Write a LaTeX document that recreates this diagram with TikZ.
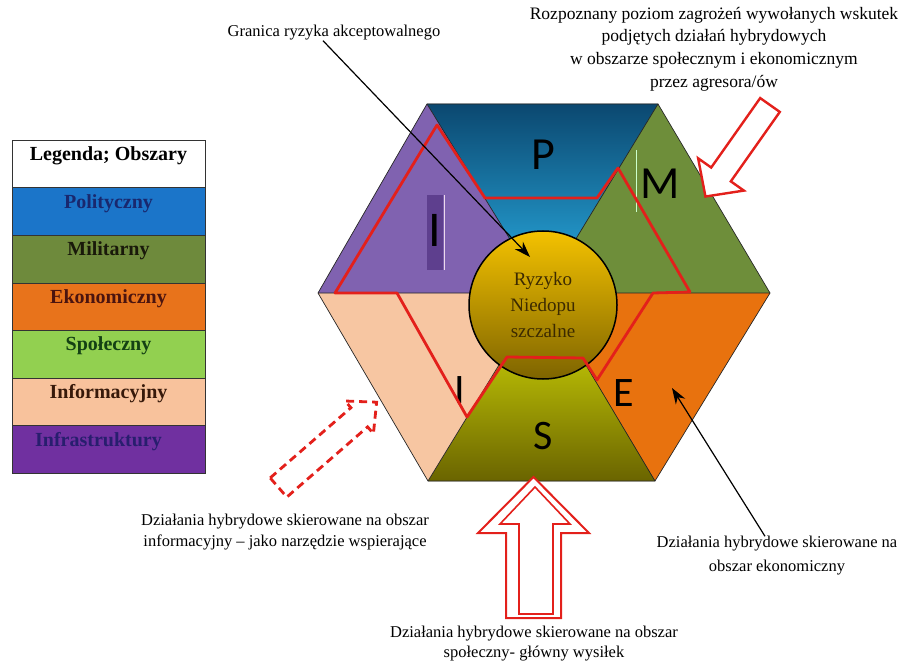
\documentclass[tikz,border=0pt]{standalone}
\usepackage{fontspec}
\setmainfont{Liberation Serif}
\newfontfamily\letterfont{Carlito}
\usetikzlibrary{arrows.meta}

\definecolor{riskred}{HTML}{E3201B}
\definecolor{pdark}{HTML}{0B4870}
\definecolor{plight}{HTML}{2AB0E6}
\definecolor{militar}{HTML}{6E8E3A}
\definecolor{ekon}{HTML}{E8720E}
\definecolor{infoseg}{HTML}{F7C6A2}
\definecolor{infraseg}{HTML}{8062B0}
\definecolor{infradark}{HTML}{5E3F8E}
\definecolor{spoltop}{HTML}{E2EA08}
\definecolor{spolmid}{HTML}{BFC400}
\definecolor{spolbot}{HTML}{6A6400}
\definecolor{circtop}{HTML}{F4C200}
\definecolor{circbot}{HTML}{7E6400}
\definecolor{legpol}{HTML}{1B75C9}
\definecolor{legmil}{HTML}{6E8A3C}
\definecolor{legeko}{HTML}{E8731B}
\definecolor{legspo}{HTML}{92D050}
\definecolor{leginf}{HTML}{F8C29C}
\definecolor{legifr}{HTML}{7030A0}

\begin{document}
\begin{tikzpicture}[x=1pt,y=-1pt,
	legendrow/.style={draw=black!80, line width=0.8pt, minimum width=193pt, minimum height=47.6pt, inner sep=0pt, text height=14pt, text depth=21pt, font=\fontsize{20}{22}\selectfont\bfseries},
	segment/.style={draw=black!85, line width=0.7pt},
	bigletter/.style={inner sep=0pt, font=\letterfont\fontsize{46}{46}\selectfont},
	smallletter/.style={inner sep=0pt, font=\letterfont\fontsize{42}{42}\selectfont},
	note/.style={align=center, inner sep=0pt, font=\fontsize{16.5}{21}\selectfont},
	pointer/.style={draw=black, line width=1.2pt, -{Stealth[length=16pt,width=11pt]}},
	limitline/.style={draw=riskred, line width=2.8pt, line join=round},
	blockarrow/.style={draw=riskred, fill=white, line width=2.4pt, line join=miter}]
	\useasboundingbox (0,0) rectangle (905,663);

	% legend
	\node[legendrow, fill=white, text=black] (leg0) at (108.5,164) {Legenda; Obszary};
	\node[legendrow, fill=legpol, text={rgb,255:red,25;green,40;blue,110}] (leg1) at (108.5,211.6) {Polityczny};
	\node[legendrow, fill=legmil, text={rgb,255:red,25;green,25;blue,10}] (leg2) at (108.5,259.2) {Militarny};
	\node[legendrow, fill=legeko, text={rgb,255:red,75;green,20;blue,15}] (leg3) at (108.5,306.8) {Ekonomiczny};
	\node[legendrow, fill=legspo, text={rgb,255:red,20;green,65;blue,20}] (leg4) at (108.5,354.4) {Społeczny};
	\node[legendrow, fill=leginf, text={rgb,255:red,55;green,25;blue,10}] (leg5) at (108.5,402) {Informacyjny};
	\node[legendrow, fill=legifr, text={rgb,255:red,40;green,30;blue,110}] (leg6) at (108.5,449.6) {Infrastruktury\hspace*{20pt}};

	% hexagon corners
	\coordinate (tl) at (427,104);
	\coordinate (tr) at (658,104);
	\coordinate (rr) at (770,293);
	\coordinate (br) at (655,481);
	\coordinate (bl) at (428,481);
	\coordinate (ll) at (318,293);
	\coordinate (hc) at (543,293);

	% segments
	\fill[top color=pdark, bottom color=plight] (tl) -- (tr) -- (hc) -- cycle;
	\fill[militar] (tr) -- (rr) -- (hc) -- cycle;
	\fill[ekon] (rr) -- (br) -- (hc) -- cycle;
	\fill[top color=spoltop, middle color=spolmid, bottom color=spolbot] (br) -- (bl) -- (hc) -- cycle;
	\fill[infoseg] (bl) -- (ll) -- (hc) -- cycle;
	\fill[infraseg] (ll) -- (tl) -- (hc) -- cycle;
	\draw[segment] (tl) -- (tr) -- (rr) -- (br) -- (bl) -- (ll) -- cycle;
	\draw[segment] (tl) -- (hc) -- (tr);
	\draw[segment] (rr) -- (hc) -- (br);
	\draw[segment] (bl) -- (hc) -- (ll);

	% letters
	\fill[infradark] (427,195) rectangle (443,270);
	\draw[white!85!violet, line width=0.8pt] (444,195) -- (444,270);
	\draw[white!80!green, line width=0.8pt] (636,150) -- (636,212);
	\node[bigletter] (letP) at (543,155) {P};
	\node[bigletter] (letM) at (660,184) {M};
	\node[bigletter, font=\letterfont\fontsize{50}{50}\selectfont] (letI) at (435,230) {I};
	\node[smallletter] (letInfo) at (460,390) {I};
	\node[smallletter] (letE) at (624,393) {E};
	\node[smallletter] (letS) at (543,436) {S};

	% core
	\node[circle, minimum size=148pt, inner sep=0pt, draw=black, line width=1.5pt, top color=circtop, bottom color=circbot, align=center, text={rgb,255:red,60;green,42;blue,0}, font=\fontsize{19}{26}\selectfont] (risk) at (543,305) {Ryzyko\\Niedopu\\szczalne};

	% acceptable risk border
	\draw[limitline] (437,125) -- (485,198) -- (597,198) -- (618,168) -- (690,292) -- (653,293) -- (597,380) -- (583,358) -- (507,357) -- (467,417) -- (397,293) -- (335,293) -- cycle;

	% labels
	\node[note] (lblGranica) at (334,33) {Granica ryzyka akceptowalnego};
	\node[note, font=\fontsize{17.5}{22.7}\selectfont] (lblZagrozenia) at (714,49) {Rozpoznany poziom zagrożeń wywołanych wskutek\\podjętych działań hybrydowych\\w obszarze społecznym i ekonomicznym\\przez agresora/ów};
	\node[note] (lblInfo) at (285,532) {Działania hybrydowe skierowane na obszar\\informacyjny -- jako narzędzie wspierające};
	\node[note, font=\fontsize{16.5}{20}\selectfont] (lblSpol) at (534,644) {Działania hybrydowe skierowane na obszar\\społeczny- główny wysiłek};
	\node[note, font=\fontsize{16.5}{24}\selectfont] (lblEkon) at (777,556) {Działania hybrydowe skierowane na\\obszar ekonomiczny};

	% pointers
	\coordinate (granicaTip) at (530,257);
	\coordinate (ekonTip) at (672,388);
	\draw[pointer] ([xshift=-11pt]lblGranica.south) -- (granicaTip);
	\draw[pointer] ([xshift=-12pt]lblEkon.north) -- (ekonTip);

	% block arrows
	\begin{scope}[shift={(770,105)}, rotate=234.8]
		\draw[blockarrow] (0,-12) -- (85,-12) -- (85,-28) -- (112,0) -- (85,28) -- (85,12) -- (0,12) -- cycle;
	\end{scope}
	\begin{scope}[shift={(278.5,487.5)}, rotate=41]
		\draw[blockarrow, line width=2.8pt, dash pattern=on 8pt off 5pt] (0,-12.7) -- (107,-12.7) -- (107,-21.6) -- (130,0) -- (107,21.6) -- (107,12.7) -- (0,12.7) -- cycle;
	\end{scope}
	\draw[blockarrow, line width=2pt] (533.5,477) -- (589,533) -- (561,533) -- (561,618) -- (506,618) -- (506,533) -- (478,533) -- cycle;
	\draw[draw=riskred, line width=1.6pt, line join=miter] (535,487) -- (570,524) -- (553,524) -- (553,614) -- (519,614) -- (519,524) -- (500,524) -- cycle;
\end{tikzpicture}
\end{document}
